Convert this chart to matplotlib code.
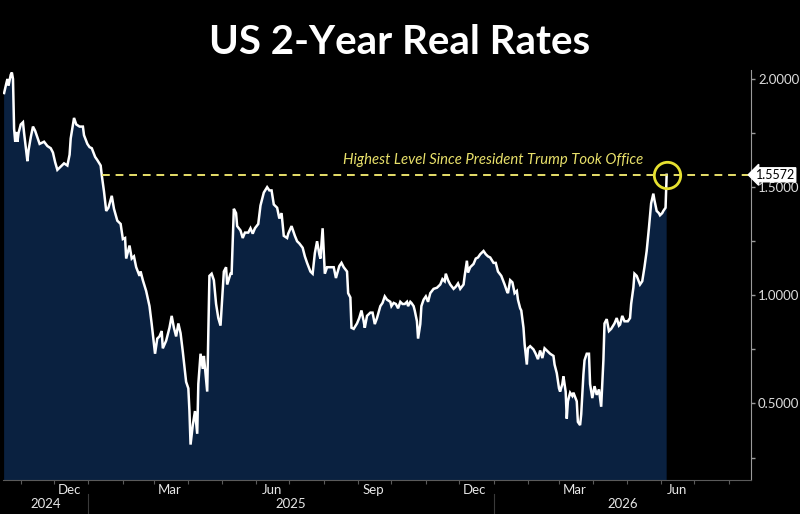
import matplotlib
matplotlib.use("Agg")
import matplotlib.pyplot as plt
import matplotlib.dates as mdates
import matplotlib.transforms as mtransforms
import pandas as pd

title = "US 2-Year Real Rates"
note = "Highest Level Since President Trump Took Office"

dates = [
    "2024-10-17", "2024-10-19", "2024-10-20", "2024-10-21", "2024-10-23", "2024-10-24",
    "2024-10-25", "2024-10-26", "2024-10-27", "2024-10-28", "2024-10-29", "2024-10-30",
    "2024-11-01", "2024-11-03", "2024-11-04", "2024-11-07", "2024-11-08", "2024-11-10",
    "2024-11-12", "2024-11-14", "2024-11-16", "2024-11-18", "2024-11-22", "2024-11-25",
    "2024-11-28", "2024-11-30", "2024-12-02", "2024-12-04", "2024-12-06", "2024-12-08",
    "2024-12-10", "2024-12-13", "2024-12-15", "2024-12-16", "2024-12-19", "2024-12-21",
    "2024-12-24", "2024-12-27", "2024-12-28", "2024-12-31", "2025-01-02", "2025-01-04",
    "2025-01-07", "2025-01-09", "2025-01-12", "2025-01-13", "2025-01-15", "2025-01-17",
    "2025-01-19", "2025-01-22", "2025-01-24", "2025-01-27", "2025-01-30", "2025-02-01",
    "2025-02-03", "2025-02-04", "2025-02-07", "2025-02-09", "2025-02-11", "2025-02-13",
    "2025-02-16", "2025-02-17", "2025-02-19", "2025-02-22", "2025-02-25", "2025-02-27",
    "2025-03-02", "2025-03-04", "2025-03-06", "2025-03-08", "2025-03-09", "2025-03-12",
    "2025-03-15", "2025-03-17", "2025-03-19", "2025-03-21", "2025-03-23", "2025-03-25",
    "2025-03-27", "2025-03-30", "2025-04-01", "2025-04-02", "2025-04-03", "2025-04-05",
    "2025-04-07", "2025-04-09", "2025-04-10", "2025-04-12", "2025-04-14", "2025-04-15",
    "2025-04-18", "2025-04-20", "2025-04-22", "2025-04-24", "2025-04-26", "2025-04-28",
    "2025-04-30", "2025-05-03", "2025-05-05", "2025-05-06", "2025-05-09", "2025-05-10",
    "2025-05-12", "2025-05-14", "2025-05-15", "2025-05-18", "2025-05-20", "2025-05-22",
    "2025-05-25", "2025-05-27", "2025-05-29", "2025-05-31", "2025-06-03", "2025-06-05",
    "2025-06-08", "2025-06-11", "2025-06-13", "2025-06-15", "2025-06-17", "2025-06-20",
    "2025-06-22", "2025-06-24", "2025-06-26", "2025-06-29", "2025-06-30", "2025-07-03",
    "2025-07-06", "2025-07-08", "2025-07-10", "2025-07-13", "2025-07-15", "2025-07-17",
    "2025-07-20", "2025-07-22", "2025-07-24", "2025-07-26", "2025-07-28", "2025-07-29",
    "2025-07-31", "2025-08-02", "2025-08-04", "2025-08-07", "2025-08-10", "2025-08-12",
    "2025-08-15", "2025-08-17", "2025-08-19", "2025-08-22", "2025-08-23", "2025-08-25",
    "2025-08-26", "2025-08-28", "2025-08-31", "2025-09-02", "2025-09-04", "2025-09-06",
    "2025-09-07", "2025-09-09", "2025-09-12", "2025-09-14", "2025-09-16", "2025-09-18",
    "2025-09-21", "2025-09-23", "2025-09-25", "2025-09-27", "2025-09-30", "2025-10-01",
    "2025-10-03", "2025-10-05", "2025-10-07", "2025-10-09", "2025-10-11", "2025-10-13",
    "2025-10-15", "2025-10-16", "2025-10-18", "2025-10-19", "2025-10-21", "2025-10-22",
    "2025-10-24", "2025-10-25", "2025-10-27", "2025-10-28", "2025-10-30", "2025-11-01",
    "2025-11-03", "2025-11-05", "2025-11-08", "2025-11-11", "2025-11-14", "2025-11-16",
    "2025-11-18", "2025-11-19", "2025-11-21", "2025-11-23", "2025-11-26", "2025-11-28",
    "2025-11-30", "2025-12-02", "2025-12-05", "2025-12-06", "2025-12-08", "2025-12-09",
    "2025-12-11", "2025-12-14", "2025-12-16", "2025-12-18", "2025-12-20", "2025-12-23",
    "2025-12-25", "2025-12-27", "2025-12-29", "2026-01-01", "2026-01-03", "2026-01-05",
    "2026-01-08", "2026-01-11", "2026-01-13", "2026-01-14", "2026-01-16", "2026-01-18",
    "2026-01-20", "2026-01-22", "2026-01-23", "2026-01-25", "2026-01-26", "2026-01-28",
    "2026-01-29", "2026-01-31", "2026-02-01", "2026-02-03", "2026-02-06", "2026-02-08",
    "2026-02-10", "2026-02-12", "2026-02-14", "2026-02-16", "2026-02-18", "2026-02-21",
    "2026-02-24", "2026-02-25", "2026-02-27", "2026-03-01", "2026-03-02", "2026-03-04",
    "2026-03-05", "2026-03-07", "2026-03-08", "2026-03-09", "2026-03-11", "2026-03-13",
    "2026-03-14", "2026-03-17", "2026-03-18", "2026-03-20", "2026-03-21", "2026-03-23",
    "2026-03-24", "2026-03-26", "2026-03-28", "2026-03-29", "2026-03-31", "2026-04-02",
    "2026-04-04", "2026-04-06", "2026-04-08", "2026-04-10", "2026-04-11", "2026-04-13",
    "2026-04-15", "2026-04-17", "2026-04-20", "2026-04-22", "2026-04-24", "2026-04-25",
    "2026-04-27", "2026-04-29", "2026-05-02", "2026-05-04", "2026-05-05", "2026-05-07",
    "2026-05-08", "2026-05-10", "2026-05-13", "2026-05-15", "2026-05-17", "2026-05-19",
    "2026-05-21", "2026-05-23", "2026-05-25", "2026-05-26", "2026-05-28", "2026-05-30",
    "2026-05-31", "2026-06-02", "2026-06-03", "2026-06-05", "2026-06-06",
]

rates = [
    1.935, 1.98, 2.00, 1.97, 2.02, 2.03,
    2.00, 1.77, 1.71, 1.755, 1.71, 1.75,
    1.79, 1.80, 1.75, 1.62, 1.67, 1.73,
    1.78, 1.76, 1.73, 1.70, 1.71, 1.69,
    1.68, 1.66, 1.615, 1.58, 1.59, 1.60,
    1.61, 1.60, 1.65, 1.725, 1.82, 1.79,
    1.78, 1.78, 1.74, 1.70, 1.685, 1.68,
    1.64, 1.625, 1.60, 1.555, 1.48, 1.39,
    1.405, 1.46, 1.40, 1.345, 1.33, 1.26,
    1.265, 1.17, 1.23, 1.17, 1.18, 1.13,
    1.09, 1.11, 1.07, 1.02, 0.95, 0.867,
    0.73, 0.80, 0.81, 0.835, 0.755, 0.79,
    0.85, 0.905, 0.85, 0.81, 0.87, 0.825,
    0.74, 0.60, 0.57, 0.465, 0.31, 0.40,
    0.465, 0.36, 0.59, 0.73, 0.66, 0.72,
    0.555, 1.09, 1.10, 1.07, 0.96, 0.895,
    0.86, 1.11, 1.13, 1.05, 1.10, 1.10,
    1.40, 1.38, 1.32, 1.30, 1.265, 1.29,
    1.29, 1.31, 1.285, 1.31, 1.33, 1.415,
    1.475, 1.50, 1.485, 1.485, 1.42, 1.405,
    1.355, 1.38, 1.275, 1.265, 1.285, 1.32,
    1.275, 1.25, 1.24, 1.22, 1.18, 1.15,
    1.11, 1.10, 1.195, 1.25, 1.19, 1.17,
    1.31, 1.10, 1.13, 1.13, 1.13, 1.08,
    1.135, 1.15, 1.13, 1.11, 1.01, 0.99,
    0.85, 0.845, 0.87, 0.895, 0.93, 0.88,
    0.85, 0.905, 0.92, 0.92, 0.867, 0.895,
    0.95, 0.965, 0.995, 0.98, 0.97, 0.95,
    0.965, 0.96, 0.94, 0.97, 0.96, 0.96,
    0.97, 0.95, 0.97, 0.965, 0.95, 0.93,
    0.88, 0.80, 0.867, 0.95, 0.98, 0.995,
    0.97, 1.01, 1.03, 1.035, 1.05, 1.075,
    1.065, 1.10, 1.07, 1.05, 1.03, 1.04,
    1.055, 1.03, 1.05, 1.09, 1.16, 1.105,
    1.13, 1.145, 1.17, 1.175, 1.19, 1.205,
    1.19, 1.18, 1.175, 1.15, 1.15, 1.11,
    1.09, 1.05, 1.02, 1.01, 1.07, 1.06,
    1.01, 1.02, 0.98, 0.94, 0.93, 0.85,
    0.775, 0.68, 0.755, 0.765, 0.75, 0.73,
    0.705, 0.745, 0.71, 0.755, 0.745, 0.73,
    0.72, 0.68, 0.64, 0.57, 0.555, 0.59,
    0.625, 0.555, 0.43, 0.51, 0.55, 0.535,
    0.55, 0.51, 0.415, 0.40, 0.45, 0.635,
    0.70, 0.73, 0.73, 0.59, 0.525, 0.58,
    0.54, 0.565, 0.485, 0.70, 0.87, 0.89,
    0.835, 0.845, 0.87, 0.895, 0.86, 0.865,
    0.905, 0.88, 0.88, 0.895, 0.96, 1.035,
    1.10, 1.09, 1.05, 1.065, 1.13, 1.205,
    1.31, 1.425, 1.47, 1.44, 1.39, 1.38,
    1.37, 1.38, 1.39, 1.405, 1.5572,
]

ref_level = 1.5572
ref_start = "2025-01-13"
x_range = ("2024-10-16", "2026-08-21")
y_range = (0.146, 2.042)
y_ticks = [0.5, 1.0, 1.5, 2.0]
year_starts = ["2025-01-01", "2026-01-01"]

NAVY = "#0a2140"
YELLOW = "#e8e06a"
GREY = "#9a9a9a"

plt.rcParams["font.family"] = ["Lato", "DejaVu Sans"]

x = pd.to_datetime(dates)
fig = plt.figure(figsize=(8, 5.14), dpi=100, facecolor="black")
ax = fig.add_axes([0.00375, 0.066, 0.935, 0.798], facecolor="black")

ax.fill_between(x, rates, y_range[0] - 1, color=NAVY, lw=0)
ax.plot(x, rates, color="white", lw=1.8, solid_joinstyle="miter")

xmin, xmax = pd.to_datetime(x_range[0]), pd.to_datetime(x_range[1])
ax.set_xlim(xmin, xmax)
ax.set_ylim(*y_range)

# dashed reference line + circle on last point
ax.plot([pd.to_datetime(ref_start), xmax], [ref_level, ref_level],
        color=YELLOW, lw=1.4, ls=(0, (4, 3)))
ax.plot(x[-1], rates[-1], marker="o", ms=19, mfc="none", mec="#e6e030", mew=2)
ax.text(pd.to_datetime("2026-05-16"), 1.627, note, color=YELLOW,
        fontsize=10.7, style="italic", ha="right", va="center")

# spines
for s in ["top", "left"]:
    ax.spines[s].set_visible(False)
ax.spines["right"].set_color(GREY)
ax.spines["bottom"].set_color("#5a5a5a")

# y axis on the right
ax.yaxis.tick_right()
ax.set_yticks(y_ticks)
ax.set_yticklabels([f"{v:.4f}" for v in y_ticks])
ax.set_yticks([0.25, 0.75, 1.25, 1.75], minor=True)
ax.tick_params(axis="y", which="both", colors=GREY, labelcolor="#dcdcdc",
               length=3, width=1, labelsize=9.5, pad=2)

# last value tag
tag_tr = mtransforms.blended_transform_factory(ax.transAxes, ax.transData)
ax.text(1.006, ref_level, f"{ref_level:.4f}", transform=tag_tr, color="black",
        fontsize=9, ha="left", va="center",
        bbox=dict(boxstyle="larrow,pad=0.08", fc="white", ec="white"))

# x axis: month ticks, quarter labels mid-month
ax.xaxis.set_major_locator(mdates.MonthLocator())
ax.xaxis.set_major_formatter(plt.NullFormatter())
ax.xaxis.set_minor_locator(mdates.MonthLocator(bymonth=[3, 6, 9, 12], bymonthday=15))
ax.xaxis.set_minor_formatter(mdates.DateFormatter("%b"))
ax.tick_params(axis="x", which="major", colors="#5a5a5a", length=3, direction="out")
ax.tick_params(axis="x", which="minor", length=0, labelcolor="#e6e6e6",
               labelsize=9.5, pad=3)

# year row
yr_tr = mtransforms.blended_transform_factory(ax.transData, ax.transAxes)
bounds = [xmin] + list(pd.to_datetime(year_starts)) + [xmax]
for a, b in zip(bounds[:-1], bounds[1:]):
    mid = a + (b - a) / 2
    ax.text(mid, -0.058, str(a.year if a != xmin else b.year - 1), transform=yr_tr,
            color="#e6e6e6", fontsize=9.5, ha="center", va="center")
for ys in pd.to_datetime(year_starts):
    ax.plot([ys, ys], [-0.035, -0.085], transform=yr_tr, color="#3a3a3a",
            lw=0.8, clip_on=False)

fig.text(0.5, 0.918, title, color="white", fontsize=29, fontweight="bold",
         ha="center", va="center")

fig.savefig("out.png", dpi=100, facecolor="black")
